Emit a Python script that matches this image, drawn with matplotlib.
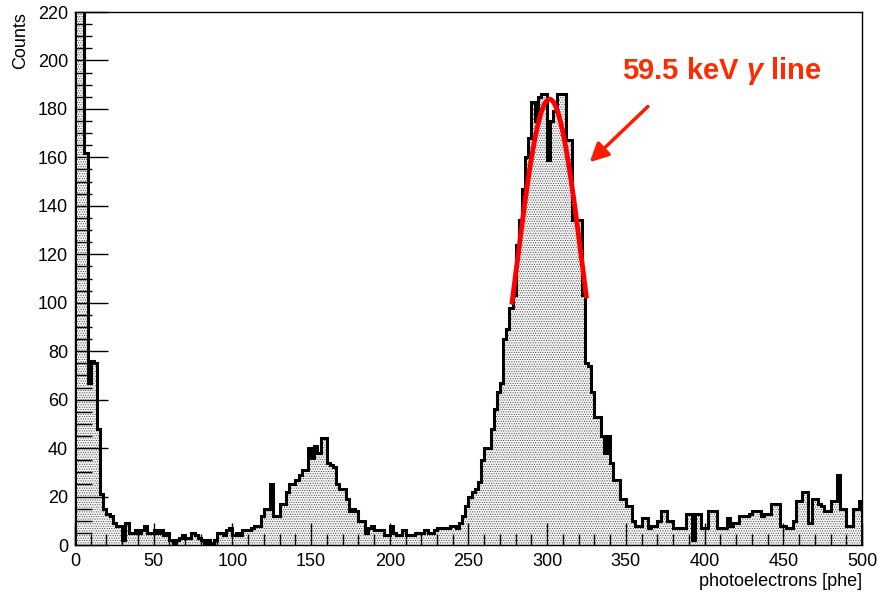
import numpy as np
import matplotlib
matplotlib.use("Agg")
import matplotlib.pyplot as plt

plt.rcParams['font.family'] = ['Liberation Sans', 'DejaVu Sans']
plt.rcParams['mathtext.fontset'] = 'custom'
plt.rcParams['mathtext.it'] = 'Liberation Sans:bold:italic'
plt.rcParams['mathtext.rm'] = 'Liberation Sans:bold'
plt.rcParams['hatch.linewidth'] = 0.4

# histogram: 2 phe wide bins from 0 to 500
bin_lo = 0
bin_hi = 500
bin_w = 2
counts = [
    235, 228, 222, 162, 67, 76, 75, 48, 21, 15,
    13, 12, 9, 8, 8, 2, 9, 5, 5, 6,
    5, 6, 8, 5, 5, 6, 5, 6, 4, 5,
    2, 1, 2, 3, 4, 3, 3, 5, 4, 3,
    2, 1, 2, 1, 2, 5, 5, 4, 6, 7,
    4, 5, 4, 6, 6, 6, 7, 8, 8, 12,
    15, 15, 25, 12, 12, 17, 17, 22, 25, 25,
    27, 29, 31, 31, 40, 36, 41, 38, 44, 44,
    34, 33, 32, 25, 23, 23, 19, 14, 15, 14,
    10, 10, 5, 7, 8, 6, 6, 6, 4, 4,
    8, 5, 4, 4, 6, 4, 4, 4, 5, 5,
    5, 6, 5, 5, 6, 7, 7, 7, 7, 8,
    8, 7, 9, 12, 16, 20, 22, 23, 26, 35,
    40, 40, 48, 56, 63, 67, 85, 89, 98, 103,
    124, 134, 147, 160, 168, 183, 175, 185, 186, 186,
    159, 175, 179, 186, 186, 186, 167, 167, 134, 134,
    134, 103, 75, 74, 63, 53, 53, 45, 38, 45,
    34, 27, 27, 19, 19, 16, 16, 10, 8, 8,
    11, 11, 7, 8, 8, 10, 14, 14, 10, 10,
    7, 7, 7, 7, 13, 13, 2, 13, 13, 7,
    7, 14, 14, 14, 7, 7, 7, 11, 8, 9,
    9, 12, 12, 12, 13, 14, 14, 14, 12, 13,
    13, 17, 17, 17, 8, 8, 7, 7, 10, 18,
    18, 22, 22, 9, 19, 19, 17, 16, 14, 14,
    18, 18, 29, 15, 15, 8, 8, 15, 15, 18,
]

# gaussian fit of the 59.5 keV peak
fit_amp = 184
fit_mean = 301.5
fit_sigma = 21.6
fit_lo = 277.5
fit_hi = 325

edges = np.arange(bin_lo, bin_hi + bin_w, bin_w)

fig = plt.figure(figsize=(8.78, 5.95), dpi=100)
ax = fig.add_axes([75/878, 50/595, 787/878, 533/595])

ax.stairs(counts, edges, fill=True, facecolor='#f4f4f4', edgecolor='#333333',
          hatch='.......', linewidth=0)
ax.stairs(counts, edges, color='black', linewidth=2.2)

xf = np.linspace(fit_lo, fit_hi, 200)
yf = fit_amp * np.exp(-0.5 * ((xf - fit_mean) / fit_sigma) ** 2)
ax.plot(xf, yf, color='#ff0000', linewidth=3.5, solid_capstyle='butt')

ax.annotate('', xy=(327, 158), xytext=(364, 181),
            arrowprops=dict(arrowstyle='-|>', color='#ff1a00', lw=2.5,
                            mutation_scale=28, shrinkA=0, shrinkB=0))
ax.text(411, 195.5, r'59.5 keV $\gamma$ line', color='#ff2a00', fontsize=21,
        fontweight='bold', ha='center', va='center')

ax.set_xlim(0, 500)
ax.set_ylim(0, 220)
ax.set_xticks(np.arange(0, 501, 50))
ax.set_xticks(np.arange(0, 501, 10), minor=True)
ax.set_yticks(np.arange(0, 221, 20))
ax.set_yticks(np.arange(0, 221, 5), minor=True)
ax.tick_params(axis='both', which='both', direction='in', top=False, right=False,
               labelsize=13, colors='black')
ax.tick_params(axis='y', which='major', length=24, width=1, pad=5)
ax.tick_params(axis='y', which='minor', length=12, width=1)
ax.tick_params(axis='x', which='major', length=16, width=1, pad=6)
ax.tick_params(axis='x', which='minor', length=8, width=1)
for s in ax.spines.values():
    s.set_linewidth(1)

ax.set_ylabel('Counts', loc='top', fontsize=13, labelpad=6)
ax.set_xlabel('photoelectrons [phe]', loc='right', fontsize=13, labelpad=2)

fig.savefig('out.png', dpi=100)
